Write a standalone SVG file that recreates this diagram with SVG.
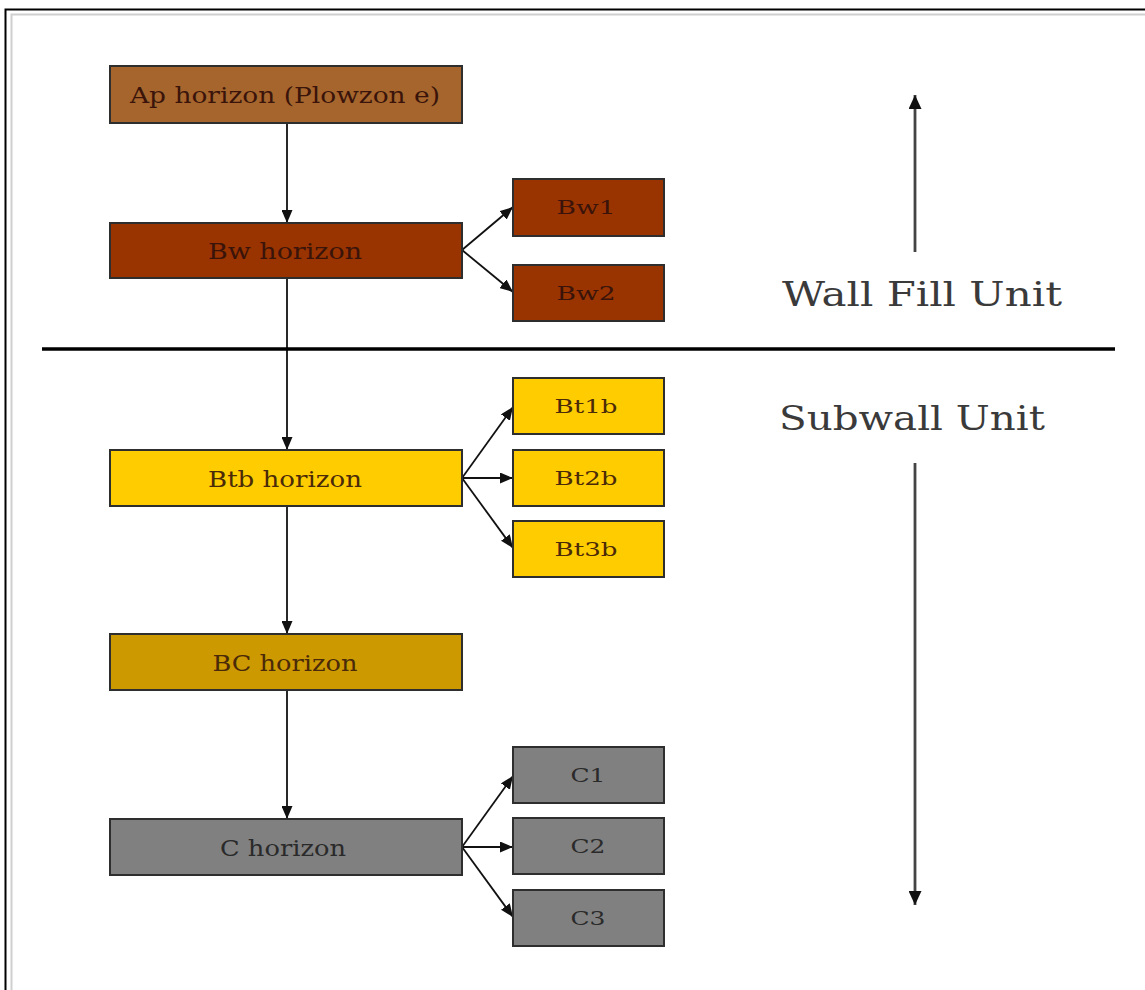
<svg xmlns="http://www.w3.org/2000/svg" width="1145" height="990" viewBox="0 0 1145 990">
<defs>
<marker id="ah" markerWidth="13" markerHeight="11" refX="13" refY="5.5" orient="auto" markerUnits="userSpaceOnUse">
<path d="M0,0 L13,5.5 L0,11 Z" fill="#111"/>
</marker>
<marker id="ah2" markerWidth="14" markerHeight="13" refX="14" refY="6.5" orient="auto" markerUnits="userSpaceOnUse">
<path d="M0,0 L14,6.5 L0,13 Z" fill="#111"/>
</marker>
<style>
.box{stroke:#2e2e2e;stroke-width:2}
.lbl{font-family:"DejaVu Serif","Liberation Serif",serif;font-size:23px;text-anchor:middle}
.sm{font-family:"DejaVu Serif","Liberation Serif",serif;font-size:19px;text-anchor:middle}
.unit{font-family:"DejaVu Serif","Liberation Serif",serif;font-size:34px;fill:#3a3a3a}
.br{fill:#3a140a}
.yl{fill:#4a2a08}
.gr{fill:#2a2a2a}
.con{stroke:#111;stroke-width:1.8;fill:none}
.side{stroke:#444;stroke-width:2.8;fill:none}
</style>
</defs>
<rect width="1145" height="990" fill="#ffffff"/>
<g id="frame" fill="none">
<path d="M5.5,990 V9.5 H1145" stroke="#000" stroke-width="2"/>
<path d="M11.5,990 V14.5 H1145" stroke="#cfcfcf" stroke-width="2"/>
</g>
<g id="connectors">
<line class="con" x1="287" y1="123" x2="287" y2="223" marker-end="url(#ah)"/>
<line class="con" x1="287" y1="278" x2="287" y2="450" marker-end="url(#ah)"/>
<line class="con" x1="287" y1="506" x2="287" y2="634" marker-end="url(#ah)"/>
<line class="con" x1="287" y1="690" x2="287" y2="819" marker-end="url(#ah)"/>
<line class="con" x1="462" y1="250" x2="513" y2="207" marker-end="url(#ah)"/>
<line class="con" x1="462" y1="250" x2="513" y2="292" marker-end="url(#ah)"/>
<line class="con" x1="462" y1="478" x2="513" y2="407" marker-end="url(#ah)"/>
<line class="con" x1="462" y1="478" x2="513" y2="478" marker-end="url(#ah)"/>
<line class="con" x1="462" y1="478" x2="513" y2="548" marker-end="url(#ah)"/>
<line class="con" x1="462" y1="847" x2="513" y2="776" marker-end="url(#ah)"/>
<line class="con" x1="462" y1="847" x2="513" y2="847" marker-end="url(#ah)"/>
<line class="con" x1="462" y1="847" x2="513" y2="917" marker-end="url(#ah)"/>
</g>
<g id="divider">
<line x1="42" y1="349" x2="1115" y2="349" stroke="#000" stroke-width="3.5"/>
</g>
<g id="side-arrows">
<line class="side" x1="915" y1="252" x2="915" y2="95" marker-end="url(#ah2)"/>
<line class="side" x1="915" y1="463" x2="915" y2="905" marker-end="url(#ah2)"/>
</g>
<g id="ap">
<rect class="box" x="110" y="66" width="352" height="57" fill="#A5652D"/>
<text class="lbl br" x="285" y="103" textLength="310" lengthAdjust="spacingAndGlyphs">Ap horizon  (Plowzon e)</text>
</g>
<g id="bw">
<rect class="box" x="110" y="223" width="352" height="55" fill="#993300"/>
<text class="lbl br" x="285" y="259" textLength="154" lengthAdjust="spacingAndGlyphs">Bw horizon</text>
</g>
<g id="bw1">
<rect class="box" x="513" y="179" width="151" height="57" fill="#993300"/>
<text class="sm br" x="586" y="214" textLength="59" lengthAdjust="spacingAndGlyphs">Bw1</text>
</g>
<g id="bw2">
<rect class="box" x="513" y="265" width="151" height="56" fill="#993300"/>
<text class="sm br" x="586" y="300" textLength="59" lengthAdjust="spacingAndGlyphs">Bw2</text>
</g>
<g id="btb">
<rect class="box" x="110" y="450" width="352" height="56" fill="#FFCC00"/>
<text class="lbl yl" x="285" y="487" textLength="154" lengthAdjust="spacingAndGlyphs">Btb horizon</text>
</g>
<g id="bt1b">
<rect class="box" x="513" y="378" width="151" height="56" fill="#FFCC00"/>
<text class="sm yl" x="586" y="413" textLength="63" lengthAdjust="spacingAndGlyphs">Bt1b</text>
</g>
<g id="bt2b">
<rect class="box" x="513" y="450" width="151" height="56" fill="#FFCC00"/>
<text class="sm yl" x="586" y="485" textLength="63" lengthAdjust="spacingAndGlyphs">Bt2b</text>
</g>
<g id="bt3b">
<rect class="box" x="513" y="521" width="151" height="56" fill="#FFCC00"/>
<text class="sm yl" x="586" y="556" textLength="63" lengthAdjust="spacingAndGlyphs">Bt3b</text>
</g>
<g id="bc">
<rect class="box" x="110" y="634" width="352" height="56" fill="#CC9900"/>
<text class="lbl yl" x="285" y="671" textLength="145" lengthAdjust="spacingAndGlyphs">BC horizon</text>
</g>
<g id="c">
<rect class="box" x="110" y="819" width="352" height="56" fill="#808080"/>
<text class="lbl gr" x="283" y="856" textLength="126" lengthAdjust="spacingAndGlyphs">C horizon</text>
</g>
<g id="c1">
<rect class="box" x="513" y="747" width="151" height="56" fill="#808080"/>
<text class="sm gr" x="588" y="782" textLength="35" lengthAdjust="spacingAndGlyphs">C1</text>
</g>
<g id="c2">
<rect class="box" x="513" y="818" width="151" height="56" fill="#808080"/>
<text class="sm gr" x="588" y="853" textLength="35" lengthAdjust="spacingAndGlyphs">C2</text>
</g>
<g id="c3">
<rect class="box" x="513" y="890" width="151" height="56" fill="#808080"/>
<text class="sm gr" x="588" y="925" textLength="35" lengthAdjust="spacingAndGlyphs">C3</text>
</g>
<g id="labels">
<text class="unit" x="782" y="306" textLength="280" lengthAdjust="spacingAndGlyphs">Wall Fill Unit</text>
<text class="unit" x="779" y="430" textLength="266" lengthAdjust="spacingAndGlyphs">Subwall Unit</text>
</g>
</svg>
